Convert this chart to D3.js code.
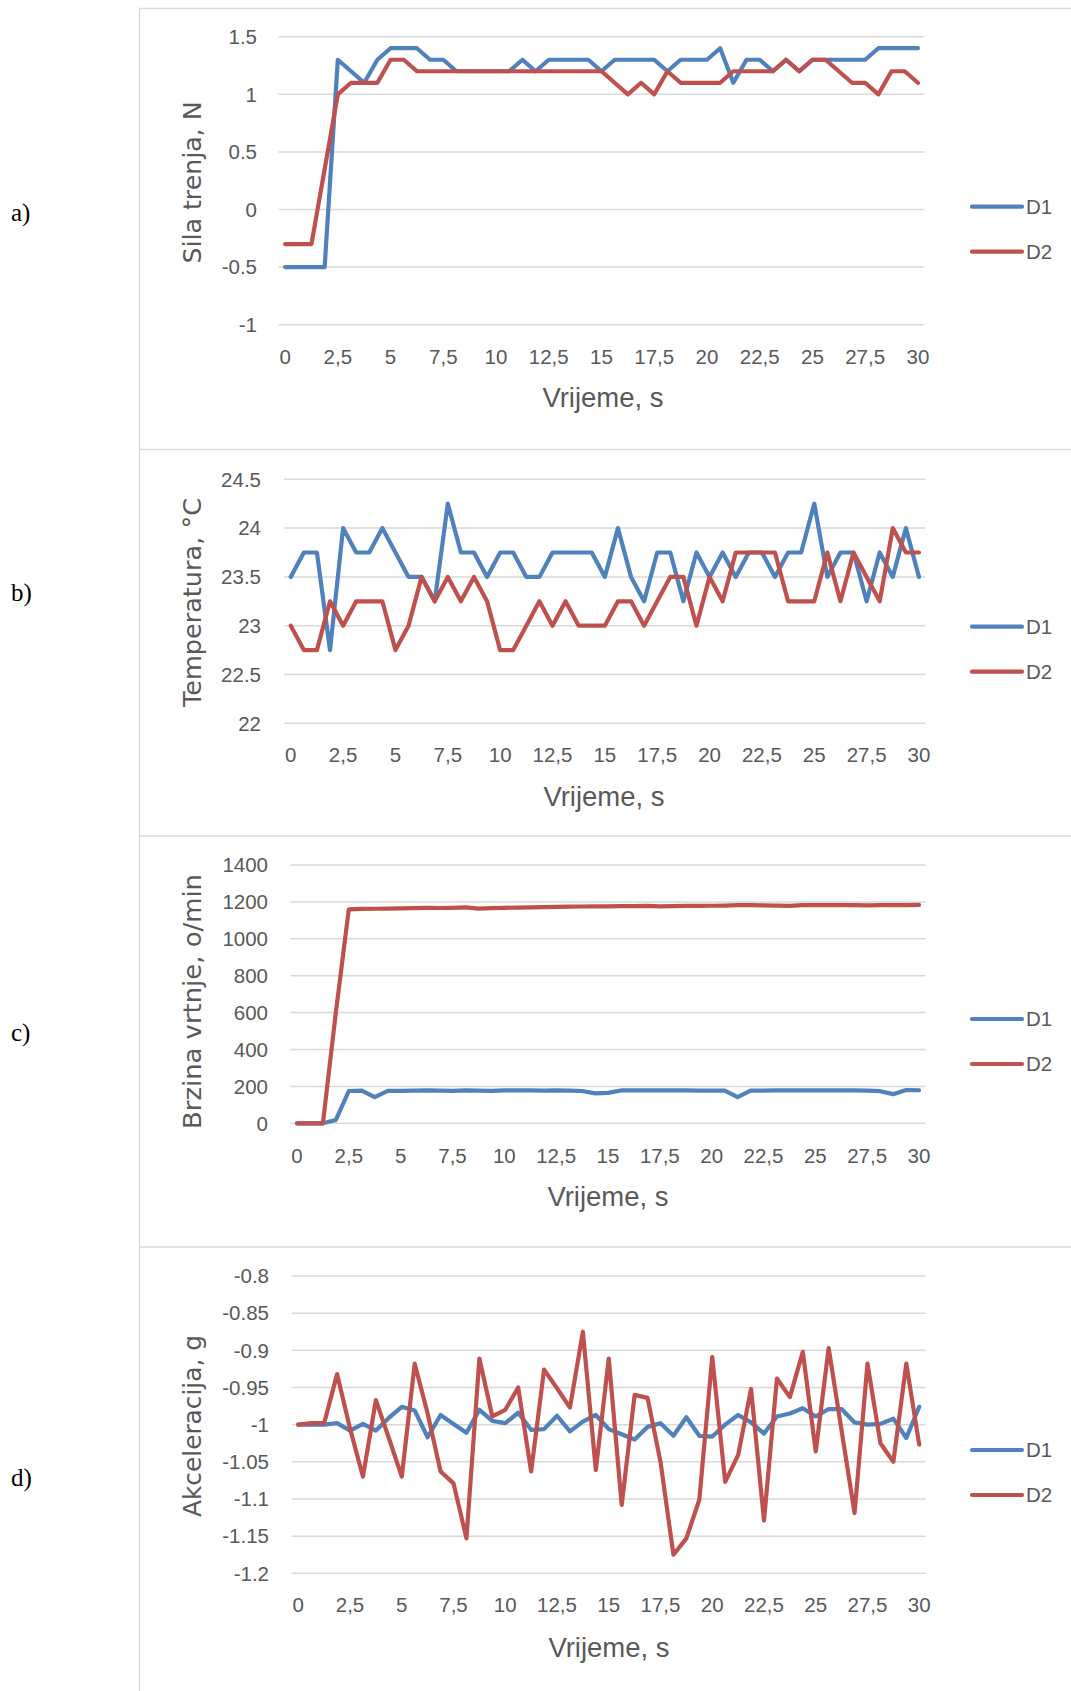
<!DOCTYPE html>
<html><head><meta charset="utf-8">
<script src="https://cdn.jsdelivr.net/npm/d3@7"></script>
<style>body{margin:0;background:#fff}svg{display:block}</style>
</head><body>
<svg id="chart" width="1071" height="1691"></svg>
<script>
// ---- DATA ----
const categories = [0,0.625,1.25,1.875,2.5,3.125,3.75,4.375,5,5.625,6.25,6.875,7.5,8.125,8.75,9.375,10,10.625,11.25,11.875,12.5,13.125,13.75,14.375,15,15.625,16.25,16.875,17.5,18.125,18.75,19.375,20,20.625,21.25,21.875,22.5,23.125,23.75,24.375,25,25.625,26.25,26.875,27.5,28.125,28.75,29.375,30];
const xTickLabels = ["0","2,5","5","7,5","10","12,5","15","17,5","20","22,5","25","27,5","30"];
const seriesNames = ["D1","D2"];

const silaD1 = [-0.5,-0.5,-0.5,-0.5,1.3,1.2,1.1,1.3,1.4,1.4,1.4,1.3,1.3,1.2,1.2,1.2,1.2,1.2,1.3,1.2,1.3,1.3,1.3,1.3,1.2,1.3,1.3,1.3,1.3,1.2,1.3,1.3,1.3,1.4,1.1,1.3,1.3,1.2,1.3,1.2,1.3,1.3,1.3,1.3,1.3,1.4,1.4,1.4,1.4];
const silaD2 = [-0.3,-0.3,-0.3,0.35,1.0,1.1,1.1,1.1,1.3,1.3,1.2,1.2,1.2,1.2,1.2,1.2,1.2,1.2,1.2,1.2,1.2,1.2,1.2,1.2,1.2,1.1,1.0,1.1,1.0,1.2,1.1,1.1,1.1,1.1,1.2,1.2,1.2,1.2,1.3,1.2,1.3,1.3,1.2,1.1,1.1,1.0,1.2,1.2,1.1];
const silaTicks = [-1,-0.5,0,0.5,1,1.5];

const tempD1 = [23.5,23.75,23.75,22.75,24,23.75,23.75,24,23.75,23.5,23.5,23.25,24.25,23.75,23.75,23.5,23.75,23.75,23.5,23.5,23.75,23.75,23.75,23.75,23.5,24,23.5,23.25,23.75,23.75,23.25,23.75,23.5,23.75,23.5,23.75,23.75,23.5,23.75,23.75,24.25,23.5,23.75,23.75,23.25,23.75,23.5,24,23.5];
const tempD2 = [23,22.75,22.75,23.25,23,23.25,23.25,23.25,22.75,23,23.5,23.25,23.5,23.25,23.5,23.25,22.75,22.75,23,23.25,23,23.25,23,23,23,23.25,23.25,23,23.25,23.5,23.5,23,23.5,23.25,23.75,23.75,23.75,23.75,23.25,23.25,23.25,23.75,23.25,23.75,23.5,23.25,24,23.75,23.75];
const tempTicks = [22,22.5,23,23.5,24,24.5];

const brzinaD1 = [0,0,0,18,175,177,142,176,176,177,178,177,176,178,177,176,178,179,178,177,178,177,175,162,165,178,178,179,178,178,178,177,177,177,142,177,177,178,178,178,178,178,178,178,177,174,158,180,179];
const brzinaD2 = [0,0,0,600,1160,1162,1163,1164,1165,1166,1168,1167,1168,1170,1164,1166,1168,1169,1170,1172,1173,1174,1175,1176,1176,1177,1177,1178,1176,1177,1178,1178,1179,1180,1182,1182,1181,1180,1178,1182,1182,1183,1182,1183,1181,1182,1182,1183,1184];
const brzinaTicks = [0,200,400,600,800,1000,1200,1400];

const akcD1 = [-1.0,-1.0,-1.0,-0.998,-1.008,-0.999,-1.008,-0.991,-0.976,-0.981,-1.017,-0.987,-0.999,-1.011,-0.98,-0.995,-0.998,-0.984,-1.007,-1.006,-0.988,-1.009,-0.996,-0.987,-1.006,-1.013,-1.02,-1.003,-0.998,-1.015,-0.99,-1.015,-1.016,-1.0,-0.987,-0.997,-1.012,-0.989,-0.985,-0.978,-0.989,-0.979,-0.979,-0.997,-1.0,-0.999,-0.992,-1.018,-0.976];
const akcD2 = [-1.0,-0.998,-0.998,-0.932,-1.005,-1.07,-0.967,-1.018,-1.07,-0.918,-0.985,-1.063,-1.079,-1.153,-0.911,-0.989,-0.98,-0.95,-1.063,-0.926,-0.951,-0.977,-0.875,-1.061,-0.911,-1.108,-0.96,-0.964,-1.05,-1.175,-1.153,-1.101,-0.909,-1.077,-1.041,-0.952,-1.129,-0.938,-0.963,-0.902,-1.036,-0.897,-1.008,-1.119,-0.918,-1.025,-1.05,-0.918,-1.027];
const akcTicks = [-1.2,-1.15,-1.1,-1.05,-1,-0.95,-0.9,-0.85,-0.8];

// ---- LAYOUT ----
const colors = ["#4F81BD", "#C0504D"];
const panels = [
  {label:"a)", labelY:213, title:"Sila trenja, N", titleY:182.5, titleLen:162, d:[silaD1,silaD2], ticks:silaTicks,
   yDomain:[-1,1.5], yRange:[324.7,36.7], xRange:[278.5,924.5], tickRight:257, xLabBase:364, xTitleX:603, xTitleBase:407, legY:[206.7,251.7]},
  {label:"b)", labelY:593, title:"Temperatura, °C", titleY:602.5, titleLen:209, d:[tempD1,tempD2], ticks:tempTicks,
   yDomain:[22,24.5], yRange:[723.3,479.3], xRange:[284.2,925.5], tickRight:261, xLabBase:762, xTitleX:604, xTitleBase:806, legY:[626.7,671.7]},
  {label:"c)", labelY:1033, title:"Brzina vrtnje, o/min", titleY:1001.5, titleLen:255, d:[brzinaD1,brzinaD2], ticks:brzinaTicks,
   yDomain:[0,1400], yRange:[1123.3,865], xRange:[290.5,925.5], tickRight:268, xLabBase:1163, xTitleX:608, xTitleBase:1206, legY:[1019,1064]},
  {label:"d)", labelY:1478, title:"Akceleracija, g", titleY:1426, titleLen:182, d:[akcD1,akcD2], ticks:akcTicks,
   yDomain:[-1.2,-0.8], yRange:[1573.3,1276], xRange:[291.8,925.7], tickRight:269, xLabBase:1612, xTitleX:609, xTitleBase:1657, legY:[1450,1495]}
];

const svg = d3.select("#chart");
const textCol = "#595959";
const tickFont = "'Liberation Sans', Arial, sans-serif";

// frames
const frame = svg.append("g").attr("stroke","#d9d9d9").attr("stroke-width",1.3).attr("fill","none");
frame.append("line").attr("x1",139.5).attr("x2",1071).attr("y1",8.5).attr("y2",8.5);
frame.append("line").attr("x1",139.5).attr("x2",139.5).attr("y1",8.5).attr("y2",1691);
[449.5,836,1247].forEach(y=>frame.append("line").attr("x1",139.5).attr("x2",1071).attr("y1",y).attr("y2",y));

panels.forEach(p=>{
  const g = svg.append("g");
  const x = d3.scaleBand().domain(categories.map((c,i)=>i)).range(p.xRange).paddingInner(0).paddingOuter(0);
  const cx = i => x(i) + x.bandwidth()/2;
  const y = d3.scaleLinear().domain(p.yDomain).range(p.yRange);

  // gridlines
  g.append("g").selectAll("line").data(p.ticks).join("line")
    .attr("x1",p.xRange[0]).attr("x2",p.xRange[1])
    .attr("y1",d=>y(d)).attr("y2",d=>y(d))
    .attr("stroke","#d9d9d9").attr("stroke-width",1.5);

  // y tick labels
  g.append("g").selectAll("text").data(p.ticks).join("text")
    .attr("x",p.tickRight).attr("y",d=>y(d)+7.2)
    .attr("text-anchor","end").attr("font-family",tickFont).attr("font-size",20.5)
    .attr("fill",textCol).text(d=>String(d));

  // x tick labels
  const labIdx = categories.map((c,i)=>i).filter(i=>i%4===0);
  g.append("g").selectAll("text").data(labIdx).join("text")
    .attr("x",i=>cx(i)).attr("y",p.xLabBase)
    .attr("text-anchor","middle").attr("font-family",tickFont).attr("font-size",20.5)
    .attr("fill",textCol).text((i,k)=>xTickLabels[k]);

  // x title
  g.append("text").attr("x",p.xTitleX).attr("y",p.xTitleBase)
    .attr("text-anchor","middle").attr("font-family",tickFont).attr("font-size",27.5)
    .attr("fill",textCol).text("Vrijeme, s");

  // y title
  g.append("text").attr("transform",`translate(201,${p.titleY}) rotate(-90)`)
    .attr("text-anchor","middle").attr("font-family","'DejaVu Sans', Verdana, sans-serif").attr("font-size",25)
    .attr("textLength",p.titleLen).attr("lengthAdjust","spacingAndGlyphs")
    .attr("fill",textCol).text(p.title);

  // lines
  const line = d3.line().x((d,i)=>cx(i)).y(d=>y(d));
  p.d.forEach((s,k)=>{
    g.append("path").datum(s).attr("d",line).attr("fill","none")
      .attr("stroke",colors[k]).attr("stroke-width",4.2)
      .attr("stroke-linejoin","round").attr("stroke-linecap","round");
  });

  // legend
  seriesNames.forEach((n,k)=>{
    g.append("line").attr("x1",972).attr("x2",1022).attr("y1",p.legY[k]).attr("y2",p.legY[k])
      .attr("stroke",colors[k]).attr("stroke-width",4.2).attr("stroke-linecap","round");
    g.append("text").attr("x",1026).attr("y",p.legY[k]+7.2)
      .attr("font-family",tickFont).attr("font-size",20.5).attr("fill",textCol).text(n);
  });

  // panel label
  svg.append("text").attr("x",11).attr("y",p.labelY+8)
    .attr("font-family","'Liberation Serif','Times New Roman',serif").attr("font-size",25)
    .attr("fill","#000").text(p.label);
});
</script>
</body></html>
